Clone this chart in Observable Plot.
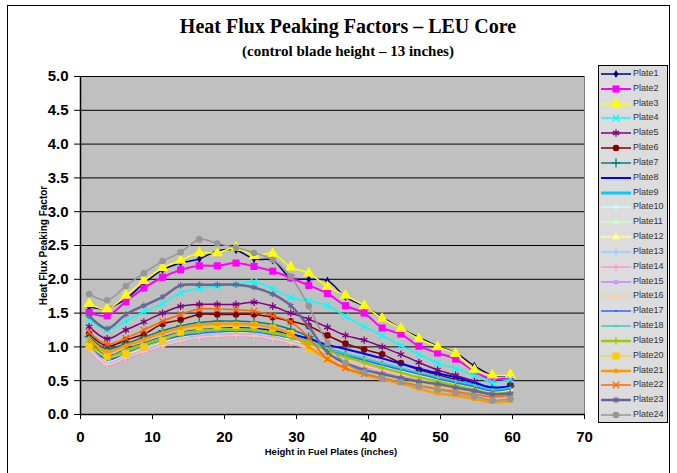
<!DOCTYPE html>
<html><head><meta charset="utf-8">
<script src="https://cdn.jsdelivr.net/npm/d3@7"></script>
<script src="https://cdn.jsdelivr.net/npm/@observablehq/plot@0.6"></script>
<style>
html,body{margin:0;padding:0;background:#fff;overflow:hidden;}
#wrap{position:relative;width:677px;height:473px;font-family:"Liberation Sans",Arial,sans-serif;}
#frame{position:absolute;left:7px;top:5px;width:663px;height:480px;border:1.5px solid #000;box-sizing:border-box;}
.t{position:absolute;left:0;width:696px;text-align:center;font-family:"Liberation Serif","Times New Roman",serif;font-weight:bold;color:#000;}
#title{top:15px;font-size:20px;}
#sub{top:43px;font-size:15px;}
#plot{position:absolute;left:0;top:0;}
#xl{position:absolute;left:231px;width:200px;text-align:center;top:446px;font-size:9.5px;font-weight:bold;}
#yl{position:absolute;left:-22px;top:240px;width:130px;text-align:center;font-size:10px;font-weight:bold;transform:rotate(-90deg);}
#legend{position:absolute;left:598px;top:65px;width:70px;height:358px;background:#dcdcdc;border:1px solid #000;box-sizing:border-box;}
.row{position:absolute;left:0;height:14px;font-size:9px;color:#333;}
.row svg{position:absolute;left:1px;top:0;}
.row span{position:absolute;left:34px;top:1px;white-space:nowrap;}
</style></head>
<body>
<div id="wrap">
<div id="frame"></div>
<div id="plot"></div>
<div class="t" id="title">Heat Flux Peaking Factors – LEU Core</div>
<div class="t" id="sub">(control blade height – 13 inches)</div>
<div id="xl">Height in Fuel Plates (inches)</div>
<div id="yl">Heat Flux Peaking Factor</div>
<div id="legend"></div>
</div>
<script>
// Axial positions (inches)
const xs = [1.2, 3.7, 6.3, 8.8, 11.4, 13.9, 16.5, 19.0, 21.6, 24.1, 26.7, 29.2, 31.7, 34.3, 36.8, 39.4, 41.9, 44.5, 47.0, 49.6, 52.1, 54.7, 57.2, 59.7];
const plates = ["Plate1","Plate2","Plate3","Plate4","Plate5","Plate6","Plate7","Plate8","Plate9","Plate10","Plate11","Plate12","Plate13","Plate14","Plate15","Plate16","Plate17","Plate18","Plate19","Plate20","Plate21","Plate22","Plate23","Plate24"];
const xTicks = [0, 10, 20, 30, 40, 50, 60, 70];
const yTicks = [0, 0.5, 1.0, 1.5, 2.0, 2.5, 3.0, 3.5, 4.0, 4.5, 5.0];

const p1  = [1.59, 1.57, 1.71, 1.94, 2.14, 2.24, 2.30, 2.42, 2.43, 2.30, 2.28, 2.02, 2.00, 1.98, 1.74, 1.60, 1.44, 1.27, 1.14, 1.01, 0.91, 0.72, 0.58, 0.58];
const p2  = [1.51, 1.46, 1.67, 1.87, 2.03, 2.14, 2.20, 2.20, 2.24, 2.19, 2.12, 2.02, 1.91, 1.79, 1.61, 1.50, 1.28, 1.19, 1.01, 0.91, 0.82, 0.64, 0.52, 0.55];
const p3  = [1.64, 1.56, 1.76, 1.98, 2.17, 2.28, 2.39, 2.39, 2.47, 2.35, 2.38, 2.18, 2.09, 1.89, 1.76, 1.61, 1.42, 1.27, 1.12, 1.00, 0.90, 0.66, 0.58, 0.59];
const p4  = [1.40, 1.25, 1.38, 1.52, 1.64, 1.80, 1.86, 1.90, 1.93, 1.96, 1.86, 1.73, 1.68, 1.61, 1.45, 1.30, 1.17, 1.02, 0.89, 0.76, 0.68, 0.58, 0.48, 0.52];
const p5  = [1.30, 1.12, 1.25, 1.37, 1.50, 1.60, 1.63, 1.63, 1.63, 1.66, 1.60, 1.50, 1.41, 1.29, 1.17, 1.10, 1.00, 0.89, 0.77, 0.66, 0.58, 0.49, 0.38, 0.43];
const p6  = [1.19, 1.01, 1.10, 1.19, 1.34, 1.40, 1.48, 1.48, 1.48, 1.48, 1.44, 1.38, 1.31, 1.17, 1.05, 0.96, 0.89, 0.76, 0.66, 0.59, 0.51, 0.44, 0.37, 0.43];
const p7  = [1.15, 0.97, 1.05, 1.14, 1.24, 1.31, 1.36, 1.38, 1.38, 1.37, 1.33, 1.26, 1.15, 0.98, 0.88, 0.80, 0.73, 0.66, 0.60, 0.54, 0.48, 0.43, 0.38, 0.42];
const p8  = [1.08, 0.86, 0.96, 1.05, 1.14, 1.21, 1.25, 1.27, 1.28, 1.27, 1.24, 1.19, 1.12, 1.03, 0.97, 0.90, 0.83, 0.75, 0.68, 0.61, 0.55, 0.47, 0.40, 0.42];
const p9  = [1.05, 0.82, 0.92, 1.01, 1.10, 1.17, 1.21, 1.23, 1.24, 1.23, 1.20, 1.15, 1.07, 0.97, 0.89, 0.81, 0.74, 0.67, 0.60, 0.54, 0.48, 0.42, 0.35, 0.37];
const p10 = [1.03, 0.80, 0.90, 0.99, 1.08, 1.15, 1.20, 1.22, 1.23, 1.22, 1.19, 1.14, 1.06, 0.95, 0.86, 0.79, 0.72, 0.65, 0.58, 0.52, 0.46, 0.40, 0.34, 0.36];
const p11 = [1.02, 0.79, 0.89, 0.98, 1.07, 1.14, 1.19, 1.21, 1.22, 1.21, 1.18, 1.12, 1.04, 0.93, 0.84, 0.77, 0.70, 0.63, 0.57, 0.51, 0.45, 0.39, 0.33, 0.35];
const p12 = [1.01, 0.78, 0.88, 0.97, 1.06, 1.13, 1.18, 1.20, 1.21, 1.20, 1.16, 1.10, 1.02, 0.91, 0.82, 0.75, 0.68, 0.62, 0.56, 0.50, 0.44, 0.38, 0.32, 0.34];
const p13 = [1.00, 0.77, 0.87, 0.96, 1.05, 1.12, 1.17, 1.19, 1.20, 1.19, 1.15, 1.09, 1.01, 0.90, 0.81, 0.74, 0.67, 0.61, 0.55, 0.49, 0.43, 0.37, 0.31, 0.33];
const p14 = [0.99, 0.75, 0.85, 0.94, 1.03, 1.10, 1.15, 1.17, 1.18, 1.17, 1.13, 1.07, 0.99, 0.88, 0.80, 0.73, 0.66, 0.60, 0.54, 0.48, 0.42, 0.36, 0.30, 0.32];
const p15 = [0.97, 0.72, 0.83, 0.92, 1.01, 1.08, 1.13, 1.15, 1.16, 1.15, 1.11, 1.05, 0.97, 0.86, 0.78, 0.71, 0.64, 0.58, 0.52, 0.46, 0.40, 0.35, 0.29, 0.31];
const p16 = [0.98, 0.74, 0.84, 0.93, 1.02, 1.09, 1.14, 1.16, 1.17, 1.16, 1.12, 1.06, 0.98, 0.87, 0.79, 0.72, 0.65, 0.59, 0.53, 0.47, 0.41, 0.36, 0.30, 0.32];
const p17 = [1.04, 0.81, 0.91, 1.00, 1.09, 1.16, 1.20, 1.22, 1.23, 1.22, 1.18, 1.13, 1.05, 0.95, 0.87, 0.80, 0.73, 0.66, 0.60, 0.53, 0.47, 0.41, 0.35, 0.38];
const p18 = [1.06, 0.84, 0.94, 1.03, 1.12, 1.19, 1.23, 1.25, 1.26, 1.25, 1.22, 1.16, 1.08, 0.98, 0.90, 0.83, 0.76, 0.69, 0.62, 0.56, 0.50, 0.44, 0.37, 0.40];
const p19 = [1.07, 0.85, 0.95, 1.04, 1.13, 1.20, 1.24, 1.26, 1.26, 1.25, 1.21, 1.15, 1.06, 0.94, 0.85, 0.77, 0.69, 0.62, 0.55, 0.49, 0.43, 0.37, 0.31, 0.33];
const p20 = [1.00, 0.86, 0.90, 1.00, 1.09, 1.22, 1.30, 1.31, 1.32, 1.32, 1.28, 1.20, 0.97, 0.82, 0.72, 0.63, 0.56, 0.50, 0.45, 0.40, 0.35, 0.30, 0.26, 0.28];
const p21 = [1.12, 0.93, 1.02, 1.11, 1.21, 1.28, 1.33, 1.34, 1.34, 1.33, 1.28, 1.19, 1.00, 0.82, 0.68, 0.59, 0.52, 0.46, 0.38, 0.31, 0.28, 0.23, 0.18, 0.20];
const p22 = [1.22, 1.04, 1.13, 1.25, 1.38, 1.48, 1.56, 1.56, 1.55, 1.53, 1.46, 1.37, 1.14, 0.82, 0.69, 0.60, 0.54, 0.48, 0.43, 0.38, 0.34, 0.30, 0.26, 0.28];
const p23 = [1.46, 1.27, 1.48, 1.61, 1.74, 1.91, 1.92, 1.92, 1.92, 1.88, 1.78, 1.61, 1.30, 0.92, 0.76, 0.66, 0.60, 0.54, 0.49, 0.45, 0.40, 0.35, 0.30, 0.31];
const p24 = [1.78, 1.69, 1.90, 2.09, 2.27, 2.40, 2.59, 2.53, 2.47, 2.39, 2.29, 2.04, 1.60, 1.06, 0.76, 0.62, 0.54, 0.48, 0.42, 0.37, 0.32, 0.27, 0.21, 0.23];

const colors  = ["#000080","#ff00ff","#ffff00","#00ffff","#800080","#800000","#008080","#0000ff","#00ccff","#ccffff","#ccffcc","#ffff99","#99ccff","#ff99cc","#cc99ff","#ffcc99","#3366ff","#33cccc","#99cc00","#ffcc00","#ff9900","#ff6600","#666699","#969696"];
const symbols = ["diamond","square","triangle","times","asterisk","circle","plus",null,null,"diamond","square","triangle","plus","plus","circle","plus","square","square","plus","square","triangle","times","asterisk","circle"];
const radii   = [2.5, 4, 4.2, 3, 3.5, 3.3, 3, 0, 0, 2, 2.5, 3, 2.5, 2.5, 2.6, 2.5, 1.2, 1.2, 2.5, 4, 2.2, 3, 3, 3.3];
const lineW   = [1.5, 2, 1.5, 1.5, 1.5, 1.5, 1.5, 2, 3, 1.5, 1.5, 1.5, 1.5, 1.5, 2, 1.5, 1.5, 1.5, 2.5, 1, 2.5, 1.5, 2.5, 1.5];

const series = [p1,p2,p3,p4,p5,p6,p7,p8,p9,p10,p11,p12,p13,p14,p15,p16,p17,p18,p19,p20,p21,p22,p23,p24];
const strokeSyms = new Set(["times","plus","asterisk"]);

const marks = [
  Plot.frame({fill: "#c0c0c0", stroke: "#808080"}),
  Plot.gridY(yTicks, {stroke: "#000", strokeOpacity: 1, strokeWidth: 1})
];
series.forEach((vals, k) => {
  const data = xs.map((x, i) => ({x, y: vals[i]}));
  marks.push(Plot.line(data, {x: "x", y: "y", stroke: colors[k], strokeWidth: lineW[k], curve: "catmull-rom"}));
  if (symbols[k]) {
    const isStroke = strokeSyms.has(symbols[k]);
    marks.push(Plot.dot(data, {x: "x", y: "y", symbol: symbols[k], r: radii[k],
      fill: isStroke ? "none" : colors[k], stroke: isStroke ? colors[k] : "none", strokeWidth: 1.3}));
  }
});
marks.push(
  Plot.axisY(yTicks, {tickFormat: d => d.toFixed(1), fontSize: 15, fontWeight: "bold", tickSize: 6, tickPadding: 6, label: null, stroke: "#000"}),
  Plot.axisX(xTicks, {fontSize: 15, fontWeight: "bold", tickSize: 5, tickPadding: 12, label: null}),
  Plot.ruleX([0], {stroke: "#000", strokeWidth: 1.5}),
  Plot.ruleY([0], {stroke: "#000", strokeWidth: 1.5})
);

const chart = Plot.plot({
  width: 677, height: 473,
  marginLeft: 80, marginRight: 93, marginTop: 76, marginBottom: 59,
  x: {domain: [0, 70]},
  y: {domain: [0, 5]},
  style: {fontFamily: "'Liberation Sans', Arial, sans-serif", background: "transparent", color: "#000"},
  marks
});
document.getElementById("plot").appendChild(chart);

// Legend
const leg = document.getElementById("legend");
const symMap = {diamond: d3.symbolDiamond, square: d3.symbolSquare, triangle: d3.symbolTriangle, times: d3.symbolTimes, asterisk: d3.symbolAsterisk, circle: d3.symbolCircle, plus: d3.symbolPlus};
plates.forEach((name, k) => {
  const row = document.createElement("div");
  row.className = "row";
  row.style.top = (1 + k * 14.83) + "px";
  const svg = d3.create("svg").attr("width", 32).attr("height", 14);
  svg.append("line").attr("x1", 1).attr("x2", 31).attr("y1", 7).attr("y2", 7).attr("stroke", colors[k]).attr("stroke-width", lineW[k]);
  if (symbols[k]) {
    const isStroke = strokeSyms.has(symbols[k]);
    svg.append("path").attr("transform", "translate(16,7)")
      .attr("d", d3.symbol(symMap[symbols[k]], Math.PI * radii[k] * radii[k])())
      .attr("fill", isStroke ? "none" : colors[k]).attr("stroke", isStroke ? colors[k] : "none").attr("stroke-width", 1.3);
  }
  row.appendChild(svg.node());
  const sp = document.createElement("span");
  sp.textContent = name;
  row.appendChild(sp);
  leg.appendChild(row);
});
</script>
</body></html>
